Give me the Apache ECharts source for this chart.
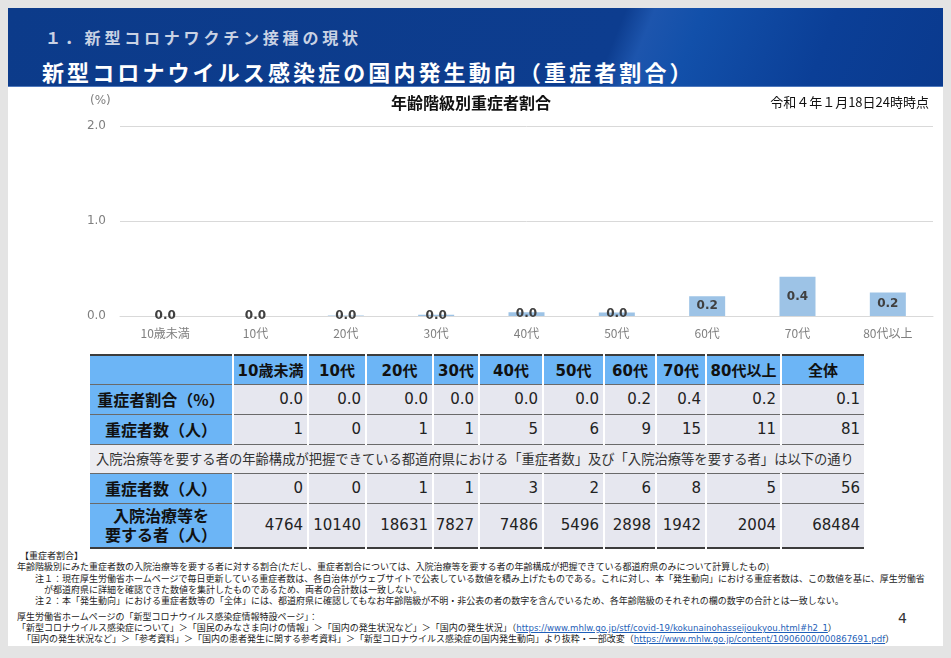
<!doctype html>
<html>
<head>
<meta charset="utf-8">
<title>年齢階級別重症者割合</title>
<script src="https://cdn.jsdelivr.net/npm/echarts@6/dist/echarts.min.js"></script>
<style type="text/css">
	html, body {
		margin: 0;
		padding: 0;
		width: 951px;
		height: 658px;
		background: #e4e4e4;
		overflow: hidden;
		font-family: "Noto Sans CJK JP", sans-serif;
	}
	.slide {
		position: absolute;
		left: 8px;
		top: 8px;
		width: 935px;
		height: 638px;
		background: #fff;
	}
	.banner {
		position: absolute;
		left: 0;
		top: 0;
		width: 935px;
		height: 78px;
		background: linear-gradient(112deg, #0c3b8a 0%, #0d3d8f 64%, #1d55ad 67%, #1250aa 72%, #0b3f97 86%, #0a3a8e 100%);
		border-bottom: 1px solid #4f79bd;
	}
	.banner .sub {
		position: absolute;
		left: 37px;
		top: 17px;
		font-size: 16px;
		font-weight: bold;
		letter-spacing: 3.8px;
		color: #c9d2e4;
	}
	.banner .main {
		position: absolute;
		left: 34px;
		top: 47px;
		font-size: 22px;
		font-weight: bold;
		letter-spacing: 3.1px;
		color: #fff;
	}
	#chart {
		position: absolute;
		left: 0;
		top: 0;
		width: 951px;
		height: 352px;
	}
	#table {
		position: absolute;
		left: 88px;
		top: 354px;
		border-collapse: collapse;
		table-layout: fixed;
		border: 2px solid #3c3c3c;
	}
	#table td {
		padding: 0 4px 0 0;
		border-left: 2px solid #fff;
		border-right: 2px solid #fff;
		border-top: 1px solid #6a6a6a;
		border-bottom: 1px solid #6a6a6a;
		background: #e6e7ef;
		text-align: right;
		font-family: "DejaVu Sans", sans-serif;
		font-size: 15px;
		color: #222;
		white-space: nowrap;
		overflow: hidden;
	}
	#table td.head {
		background: #6cb5f6;
		text-align: center;
		padding: 0;
		font-family: "DejaVu Sans", "Noto Sans CJK JP", sans-serif;
		font-weight: bold;
		font-size: 15px;
		color: #111;
	}
	#table td.label {
		background: #6cb5f6;
		text-align: center;
		padding: 0;
		font-family: "Noto Sans CJK JP", sans-serif;
		font-weight: bold;
		font-size: 16px;
		line-height: 19px;
		color: #111;
		border-right: 1px solid #444;
	}
	#table td.note {
		background: #ececf1;
		text-align: left;
		padding-left: 6px;
		font-family: "Noto Sans CJK JP", sans-serif;
		font-size: 13.3px;
		color: #333;
	}
	.notes {
		position: absolute;
		left: 0;
		top: 0;
		font-size: 9px;
		color: #222;
		white-space: nowrap;
	}
	.notes div {
		position: absolute;
		line-height: 11px;
	}
	.notes a {
		color: #1f5fb8;
		text-decoration: underline;
		font-family: "DejaVu Sans", sans-serif;
		font-size: 8.6px;
	}
	.page-no {
		position: absolute;
		left: 898px;
		top: 610px;
		font-family: "DejaVu Sans", sans-serif;
		font-size: 14px;
		color: #333;
	}
</style>
</head>
<body>
	<div class="slide">
		<div class="banner">
			<div class="sub">１．新型コロナワクチン接種の現状</div>
			<div class="main">新型コロナウイルス感染症の国内発生動向（重症者割合）</div>
		</div>
	</div>

	<div id="chart"></div>

	<table id="table"></table>

	<div class="notes">
		<div style="left:20px; top:550px;">【重症者割合】</div>
		<div style="left:17px; top:561px;">年齢階級別にみた重症者数の入院治療等を要する者に対する割合(ただし、重症者割合については、入院治療等を要する者の年齢構成が把握できている都道府県のみについて計算したもの)</div>
		<div style="left:35px; top:573px;">注１：現在厚生労働省ホームページで毎日更新している重症者数は、各自治体がウェブサイトで公表している数値を積み上げたものである。これに対し、本「発生動向」における重症者数は、この数値を基に、厚生労働省</div>
		<div style="left:44px; top:584px;">が都道府県に詳細を確認できた数値を集計したものであるため、両者の合計数は一致しない。</div>
		<div style="left:35px; top:595px;">注２：本「発生動向」における重症者数等の「全体」には、都道府県に確認してもなお年齢階級が不明・非公表の者の数字を含んでいるため、各年齢階級のそれぞれの欄の数字の合計とは一致しない。</div>
		<div style="left:17px; top:611px;">厚生労働省ホームページの「新型コロナウイルス感染症情報特設ページ」：</div>
		<div style="left:17px; top:622px;">「新型コロナウイルス感染症について」＞「国民のみなさま向けの情報」＞「国内の発生状況など」＞「国内の発生状況」（<a>https://www.mhlw.go.jp/stf/covid-19/kokunainohasseijoukyou.html#h2_1</a>）</div>
		<div style="left:22px; top:633px;">「国内の発生状況など」＞「参考資料」＞「国内の患者発生に関する参考資料」＞「新型コロナウイルス感染症の国内発生動向」より抜粋・一部改変（<a>https://www.mhlw.go.jp/content/10906000/000867691.pdf</a>）</div>
	</div>
	<div class="page-no">4</div>

	<script type="text/javascript">
		// chart data
		var ageGroups = ['10歳未満', '10代', '20代', '30代', '40代', '50代', '60代', '70代', '80代以上'];
		var severeRate = [0, 0, 0.005, 0.013, 0.04, 0.036, 0.207, 0.412, 0.248];
		var yTicks = [0, 1, 2];

		// table data
		var tableCols = ['10歳未満', '10代', '20代', '30代', '40代', '50代', '60代', '70代', '80代以上', '全体'];
		var rateRow = ['0.0', '0.0', '0.0', '0.0', '0.0', '0.0', '0.2', '0.4', '0.2', '0.1'];
		var severeAll = [1, 0, 1, 1, 5, 6, 9, 15, 11, 81];
		var severeKnown = [0, 0, 1, 1, 3, 2, 6, 8, 5, 56];
		var inpatientKnown = [4764, 10140, 18631, 7827, 7486, 5496, 2898, 1942, 2004, 68484];
		var noteText = '入院治療等を要する者の年齢構成が把握できている都道府県における「重症者数」及び「入院治療等を要する者」は以下の通り';

		var colWidths = [144, 75, 58, 67, 46, 64, 61, 52, 50, 75, 84];
		var rowHeights = [29, 30, 30, 29, 30, 45];

		function buildTable() {
			var html = '<colgroup>';
			for (var i = 0; i < colWidths.length; i++) {
				html += '<col style="width:' + colWidths[i] + 'px">';
			}
			html += '</colgroup>';

			html += '<tr style="height:' + rowHeights[0] + 'px"><td class="head"></td>';
			for (var i = 0; i < tableCols.length; i++) {
				html += '<td class="head">' + tableCols[i] + '</td>';
			}
			html += '</tr>';

			html += dataRow('重症者割合（%）', rateRow, rowHeights[1]);
			html += dataRow('重症者数（人）', severeAll, rowHeights[2]);
			html += '<tr style="height:' + rowHeights[3] + 'px"><td class="note" colspan="11">' + noteText + '</td></tr>';
			html += dataRow('重症者数（人）', severeKnown, rowHeights[4]);
			html += dataRow('入院治療等を<br>要する者（人）', inpatientKnown, rowHeights[5]);

			document.getElementById('table').innerHTML = html;
		}

		function dataRow(label, values, h) {
			var html = '<tr style="height:' + h + 'px"><td class="label">' + label + '</td>';
			for (var i = 0; i < values.length; i++) {
				html += '<td>' + values[i] + '</td>';
			}
			return html + '</tr>';
		}

		function loadRateChart() {
			var myChart = echarts.init(document.getElementById('chart'));
			var option = {
				animation: false,
				title: [{
					text: '年齢階級別重症者割合',
					left: 466,
					top: 90,
					textAlign: 'center',
					textStyle: {
						fontFamily: 'Noto Sans CJK JP',
						fontSize: 16,
						fontWeight: 'bold',
						color: '#111'
					}
				}, {
					text: '令和４年１月18日24時時点',
					right: 17,
					top: 91,
					textStyle: {
						fontFamily: 'Noto Sans CJK JP',
						fontSize: 13,
						fontWeight: 'normal',
						color: '#111'
					}
				}],
				graphic: [{
					type: 'text',
					left: 90,
					top: 95,
					style: {
						text: '(%)',
						fontFamily: 'DejaVu Sans',
						fontSize: 12,
						fill: '#808080'
					}
				}],
				grid: {
					left: 120,
					right: 18,
					top: 126,
					bottom: 36
				},
				xAxis: {
					type: 'category',
					data: ageGroups,
					axisLine: {
						lineStyle: { color: '#d9d9d9' }
					},
					axisTick: { show: false },
					axisLabel: {
						margin: 11,
						fontFamily: 'Noto Sans CJK JP',
						fontSize: 12,
						color: '#7f7f7f'
					}
				},
				yAxis: {
					type: 'value',
					min: yTicks[0],
					max: yTicks[yTicks.length - 1],
					interval: 1,
					axisLine: { show: false },
					axisTick: { show: false },
					splitLine: {
						lineStyle: { color: '#d9d9d9' }
					},
					axisLabel: {
						margin: 14,
						fontFamily: 'DejaVu Sans',
						fontSize: 12,
						color: '#7f7f7f',
						formatter: function (v) {
							return v.toFixed(1);
						}
					}
				},
				series: [{
					type: 'bar',
					data: severeRate,
					barWidth: 36,
					itemStyle: { color: '#9dc3e6' },
					label: {
						show: true,
						position: 'inside',
						fontFamily: 'DejaVu Sans',
						fontSize: 12,
						fontWeight: 'bold',
						color: '#404040',
						formatter: function (p) {
							return p.value.toFixed(1);
						}
					}
				}]
			};
			myChart.setOption(option);
		}

		buildTable();
		loadRateChart();
	</script>
</body>
</html>
